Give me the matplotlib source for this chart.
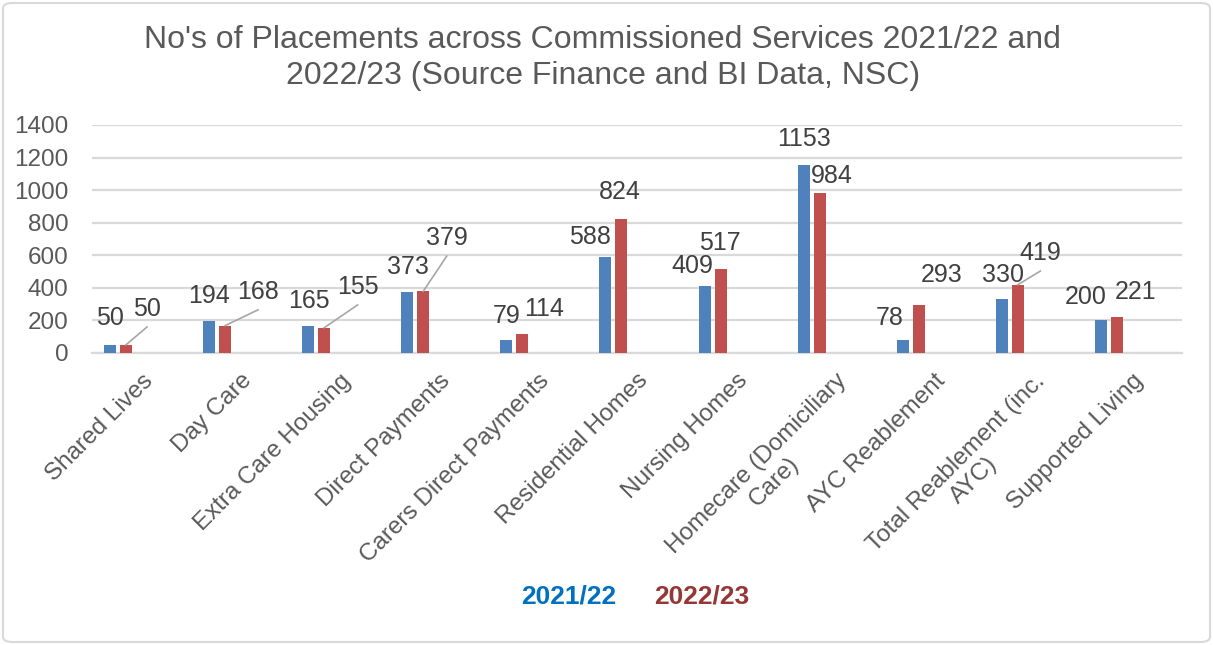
import matplotlib
matplotlib.use("Agg")
import matplotlib.pyplot as plt
from matplotlib.patches import FancyBboxPatch
import numpy as np

categories = [
    "Shared Lives", "Day Care", "Extra Care Housing", "Direct Payments",
    "Carers Direct Payments", "Residential Homes", "Nursing Homes",
    "Homecare (Domiciliary\nCare)", "AYC Reablement",
    "Total Reablement (inc.\nAYC)", "Supported Living",
]
placements_2122 = [50, 194, 165, 373, 79, 588, 409, 1153, 78, 330, 200]
placements_2223 = [50, 168, 155, 379, 114, 824, 517, 984, 293, 419, 221]
series_names = ["2021/22", "2022/23"]
y_ticks = [0, 200, 400, 600, 800, 1000, 1200, 1400]

# label placement (category offset, height) and whether a leader line is drawn
lab_2122 = [(-0.32, 215), (-0.32, 350), (-0.31, 320), (-0.31, 527), (-0.32, 227),
            (-0.475, 712), (-0.445, 534), (-0.31, 1313), (-0.45, 215),
            (-0.31, 478), (-0.47, 343)]
lab_2223 = [(0.055, 270), (0.175, 375), (0.18, 405), (0.08, 705), (0.06, 270),
            (-0.17, 988), (-0.16, 675), (-0.03, 1086), (0.07, 478),
            (0.07, 613), (0.03, 374)]
leader_2223 = [True, True, True, True, False, False, False, False, False, True, False]

BLUE = "#4F81BD"
RED = "#C0504D"
GRID = "#D9D9D9"
TXT = "#595959"
LAB = "#404040"
FS = 18

plt.rcParams["font.family"] = ["Liberation Sans", "DejaVu Sans"]

W, H = 1213, 645
fig = plt.figure(figsize=(W / 100, H / 100), dpi=100)
ax = fig.add_axes([92 / W, 1 - 353 / H, (1182 - 92) / W, (353 - 125) / H])

x = np.arange(len(categories))
bw = 0.121
off_b, off_r = -0.318, -0.157
ax.bar(x + off_b, placements_2122, width=bw, color=BLUE, zorder=3)
ax.bar(x + off_r, placements_2223, width=bw, color=RED, zorder=3)

ax.set_xlim(-0.5, len(categories) - 0.5)
ax.set_ylim(0, 1400)
ax.set_yticks(y_ticks)
ax.set_yticklabels([str(v) for v in y_ticks])
ax.yaxis.grid(True, color=GRID, linewidth=1.6, zorder=0)
ax.set_axisbelow(True)
for s in ["top", "right", "left"]:
    ax.spines[s].set_visible(False)
ax.spines["bottom"].set_color(GRID)
ax.spines["bottom"].set_linewidth(1.6)
ax.tick_params(axis="y", length=0, labelsize=17.5, labelcolor=TXT, pad=17)
ax.tick_params(axis="x", length=0, labelsize=17.5, labelcolor=TXT, pad=12)
ax.set_xticks(x)
ax.set_xticklabels(categories, rotation=45, ha="right", va="top",
                   rotation_mode="anchor", multialignment="center")

for i in range(len(categories)):
    dx, yy = lab_2122[i]
    ax.text(i + dx, yy, str(placements_2122[i]), ha="center", va="center",
            fontsize=FS, color=LAB, zorder=4)
    dx, yy = lab_2223[i]
    ax.text(i + dx, yy, str(placements_2223[i]), ha="center", va="center",
            fontsize=FS, color=LAB, zorder=4)
    if leader_2223[i]:
        ax.plot([i + dx, i + off_r], [yy - 110, placements_2223[i]],
                color="#A6A6A6", linewidth=1.2, zorder=4)

fig.text(0.497, 1 - 58 / H,
         "No's of Placements across Commissioned Services 2021/22 and\n"
         "2022/23 (Source Finance and BI Data, NSC)",
         ha="center", va="center", fontsize=23, color=TXT, linespacing=1.25)

fig.text(569 / W, 1 - 596 / H, series_names[0], ha="center", va="center",
         fontsize=19, fontweight="bold", color="#0070C0")
fig.text(702 / W, 1 - 596 / H, series_names[1], ha="center", va="center",
         fontsize=19, fontweight="bold", color="#953735")

fig.patches.append(FancyBboxPatch((3 / W, 3 / H), 1 - 6 / W, 1 - 6 / H,
                                  boxstyle="round,pad=0,rounding_size=0.008",
                                  transform=fig.transFigure, fill=False,
                                  edgecolor=GRID, linewidth=1.5))

fig.savefig("out.png", dpi=100, facecolor="white")
